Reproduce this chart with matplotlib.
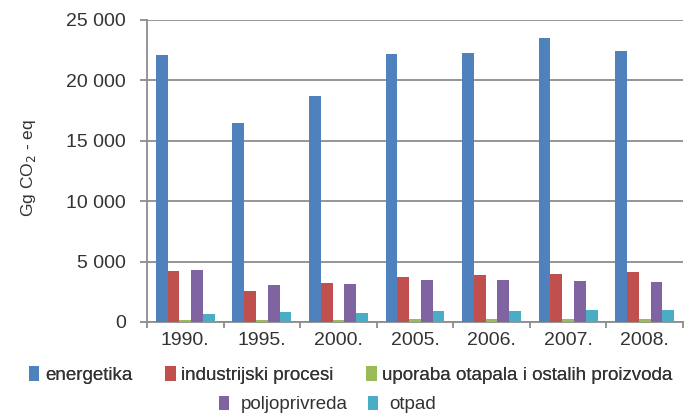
import numpy as np
import matplotlib
matplotlib.use("Agg")
import matplotlib.pyplot as plt
from matplotlib.ticker import FuncFormatter, FixedLocator

plt.rcParams["font.family"] = ["Liberation Sans", "DejaVu Sans"]

years = ["1990.", "1995.", "2000.", "2005.", "2006.", "2007.", "2008."]
series_names = ["energetika", "industrijski procesi", "uporaba otapala i ostalih proizvoda",
                "poljoprivreda", "otpad"]
energetika = [22100, 16500, 18750, 22150, 22300, 23500, 22400]
industrija = [4250, 2550, 3220, 3700, 3850, 4000, 4100]
otapala = [180, 170, 190, 250, 260, 260, 250]
poljoprivreda = [4300, 3100, 3170, 3450, 3450, 3370, 3300]
otpad = [630, 800, 710, 900, 870, 960, 960]
colors = ["#4F81BD", "#C0504D", "#9BBB59", "#8064A2", "#4BACC6"]

data = [energetika, industrija, otapala, poljoprivreda, otpad]
txt = "#333333"

fig = plt.figure(figsize=(6.88, 4.16), dpi=100)
ax = fig.add_axes([147 / 688, 1 - 322 / 416, 536 / 688, 302 / 416])

x = np.arange(len(years))
w = 0.154
handles = []
for i, vals in enumerate(data):
    b = ax.bar(x + (i - 2) * w, vals, w, color=colors[i], label=series_names[i], zorder=3)
    handles.append(b)

ax.set_ylim(0, 25000)
ax.set_xlim(-0.5, len(years) - 0.5)
ax.yaxis.set_major_locator(FixedLocator(range(0, 25001, 5000)))
ax.yaxis.set_major_formatter(FuncFormatter(lambda v, p: f"{int(v):,}".replace(",", " ")))
ax.grid(axis="y", color="#8c8c8c", linewidth=1.3, zorder=0)

ax.set_xticks(x)
ax.set_xticklabels(years)
ax.set_xticks(np.arange(-0.5, len(years), 1), minor=True)
ax.tick_params(axis="x", which="major", length=0, pad=7, labelsize=14, colors=txt)
ax.tick_params(axis="x", which="minor", length=4, width=1.3, color="#8c8c8c")
ax.tick_params(axis="y", length=5, width=1.3, color="#8c8c8c", labelsize=14, colors=txt, pad=10)

for s in ["top", "right"]:
    ax.spines[s].set_visible(False)
for s in ["left", "bottom"]:
    ax.spines[s].set_color("#8c8c8c")
    ax.spines[s].set_linewidth(1.3)

ax.set_ylabel("Gg CO$_2$ - eq", fontsize=12.5, color=txt)
ax.yaxis.set_label_coords(-0.203, 0.51)

leg1 = fig.legend(handles[:3], series_names[:3], loc="center", bbox_to_anchor=(0.51, 0.098),
                  ncol=3, frameon=False, fontsize=13.5, handlelength=0.55, handleheight=0.8,
                  handletextpad=0.3, columnspacing=1.75, labelcolor=txt)
leg2 = fig.legend(handles[3:], series_names[3:], loc="center", bbox_to_anchor=(0.476, 0.028),
                  ncol=2, frameon=False, fontsize=13.5, handlelength=0.55, handleheight=0.8,
                  handletextpad=0.6, columnspacing=1.1, labelcolor=txt)
fig.add_artist(leg1)

fig.savefig("out.png", dpi=100)
